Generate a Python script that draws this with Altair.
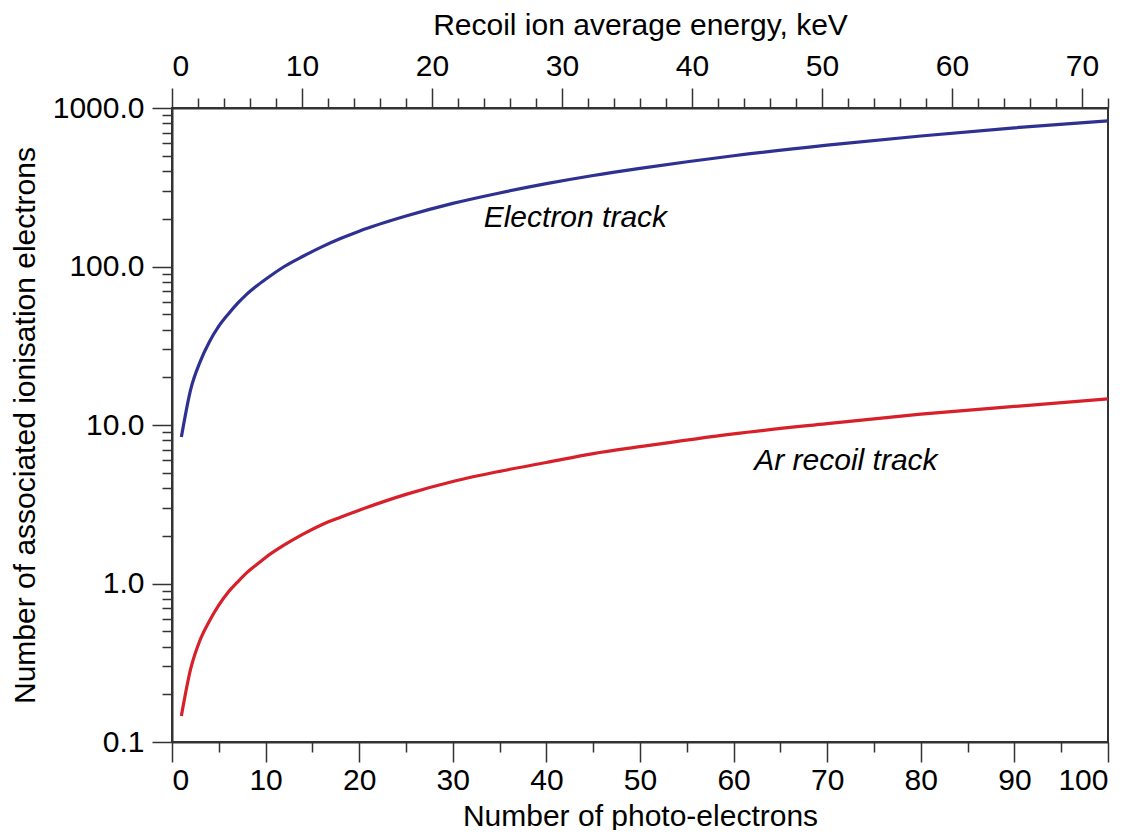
import altair as alt
import pandas as pd

# Number of photo-electrons (x) and associated ionisation electrons
pe = [1, 2, 3, 4, 5, 6, 7, 8, 9, 10, 12, 14, 16, 18, 20, 25, 30, 35, 40, 45, 50,
      60, 70, 80, 90, 100]
electron = [8.4, 16.8, 25, 33.5, 42, 50, 58.5, 67, 75, 83, 100, 116, 133, 150, 167,
            208, 250, 291, 333, 375, 416, 500, 583, 666, 750, 830]
ar_recoil = [0.146, 0.29, 0.44, 0.58, 0.73, 0.88, 1.02, 1.17, 1.31, 1.46, 1.75, 2.05,
             2.35, 2.62, 2.9, 3.65, 4.4, 5.1, 5.8, 6.6, 7.3, 8.8, 10.2, 11.7, 13.1, 14.6]

series_names = ["Electron track", "Ar recoil track"]
series_colors = ["#2e3192", "#d7202a"]

# annotation labels
label_text = ["Electron track", "Ar recoil track"]
label_x = [33.3, 62.2]
label_y = [203, 5.93]

# axis ticks
x_major = list(range(0, 101, 10))
x_minor = list(range(5, 100, 10))
y_major = [0.1, 1, 10, 100, 1000]
y_minor = [m * d for d in [0.1, 1, 10, 100] for m in range(2, 10)]
kev_domain = [0, 72]
kev_major = list(range(0, 71, 10))
kev_minor = [k for k in range(2, 73, 2) if k % 10 != 0]

rows = []
for name, vals in zip(series_names, [electron, ar_recoil]):
    for x, v in zip(pe, vals):
        rows.append({"pe": x, "val": v, "series": name})
df = pd.DataFrame(rows)
lab = pd.DataFrame({"text": label_text, "pe": label_x, "val": label_y})
kdf = pd.DataFrame({"kev": kev_domain})

xs = alt.Scale(domain=[0, 100], nice=False, zero=False)
ys = alt.Scale(type="log", domain=[0.1, 1000], nice=False)
ks = alt.Scale(domain=kev_domain, nice=False, zero=False)

FONT = "Liberation Sans"
FS = 30

lines = alt.Chart(df).mark_line(strokeWidth=3.2, clip=True, interpolate="monotone").encode(
    x=alt.X("pe:Q", scale=xs, axis=alt.Axis(orient="bottom", values=x_major, tickSize=20,
                                            labelPadding=3,
                                            title="Number of photo-electrons", titlePadding=6)),
    y=alt.Y("val:Q", scale=ys, axis=alt.Axis(orient="left", values=y_major, format=".1f",
                                             tickSize=20, labelPadding=8,
                                             title="Number of associated ionisation electrons",
                                             titlePadding=12)),
    color=alt.Color("series:N", scale=alt.Scale(domain=series_names, range=series_colors),
                    legend=None),
)

xminor = alt.Chart(df).mark_point(opacity=0).encode(
    x=alt.X("pe:Q", scale=xs, axis=alt.Axis(orient="bottom", values=x_minor, tickSize=10,
                                            labels=False, domain=False, title=None)),
    y=alt.Y("val:Q", scale=ys, axis=None),
)

yminor = alt.Chart(df).mark_point(opacity=0).encode(
    x=alt.X("pe:Q", scale=xs, axis=None),
    y=alt.Y("val:Q", scale=ys, axis=alt.Axis(orient="left", values=y_minor, tickSize=10,
                                             labels=False, domain=False, title=None)),
)

ktop = alt.Chart(kdf).mark_point(opacity=0).encode(
    x=alt.X("kev:Q", scale=ks, axis=alt.Axis(orient="top", values=kev_major, tickSize=20,
                                             labelPadding=7,
                                             title="Recoil ion average energy, keV",
                                             titlePadding=11)),
    y=alt.value(0),
)

ktop_minor = alt.Chart(kdf).mark_point(opacity=0).encode(
    x=alt.X("kev:Q", scale=ks, axis=alt.Axis(orient="top", values=kev_minor, tickSize=10,
                                             labels=False, domain=False, title=None)),
    y=alt.value(0),
)

labels = alt.Chart(lab).mark_text(align="left", baseline="middle", font=FONT, fontSize=FS,
                                  fontStyle="italic", color="black").encode(
    x=alt.X("pe:Q", scale=xs, axis=None),
    y=alt.Y("val:Q", scale=ys, axis=None),
    text="text:N",
)

chart = alt.layer(lines, xminor, yminor, ktop, ktop_minor, labels).resolve_scale(
    x="independent"
).resolve_axis(
    x="independent", y="independent"
).properties(
    width=936, height=634,
    autosize=alt.AutoSizeParams(type="none"),
    padding={"left": 164, "top": 100, "right": 30, "bottom": 88},
).configure_view(
    stroke="#333", strokeWidth=2
).configure_axis(
    grid=False, domainColor="#333", domainWidth=2, tickColor="#333", tickWidth=1.5,
    labelFont=FONT, labelFontSize=FS, labelColor="black",
    titleFont=FONT, titleFontSize=FS, titleFontWeight="normal", titleColor="black",
)

chart.save("out.html", embed_options={"renderer": "svg", "actions": False})
